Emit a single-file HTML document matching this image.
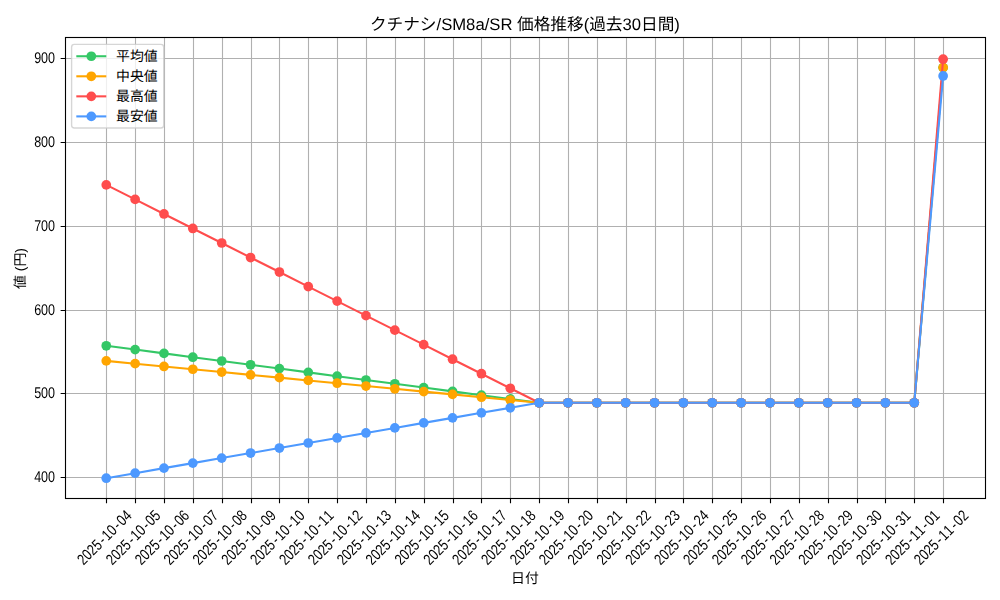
<!DOCTYPE html>
<html lang="ja">
<head>
<meta charset="utf-8">
<title>クチナシ/SM8a/SR 価格推移(過去30日間)</title>
<style>
html,body{margin:0;padding:0;background:#fff;}
body{width:1000px;height:600px;overflow:hidden;font-family:"Liberation Sans","Noto Sans CJK JP",sans-serif;}
svg{display:block;}
.t{fill:#000;opacity:0.999;}
.t text{font-family:"Liberation Sans","Noto Sans CJK JP",sans-serif;text-anchor:start;white-space:pre;text-rendering:geometricPrecision;fill:#000;}
.t text.m{text-anchor:middle;}
</style>
</head>
<body>
<svg width="1000" height="600" viewBox="0 0 1000 600" role="img" aria-label="クチナシ/SM8a/SR 価格推移(過去30日間)">
<defs><clipPath id="axclip"><rect x="65.5" y="37.5" width="920" height="461"/></clipPath></defs>
<rect width="1000" height="600" fill="#fff"/>
<path d="M106.5 37.5V498.5M135.5 37.5V498.5M164.5 37.5V498.5M193.5 37.5V498.5M222.5 37.5V498.5M251.5 37.5V498.5M279.5 37.5V498.5M308.5 37.5V498.5M337.5 37.5V498.5M366.5 37.5V498.5M395.5 37.5V498.5M424.5 37.5V498.5M453.5 37.5V498.5M481.5 37.5V498.5M510.5 37.5V498.5M539.5 37.5V498.5M568.5 37.5V498.5M597.5 37.5V498.5M626.5 37.5V498.5M655.5 37.5V498.5M683.5 37.5V498.5M712.5 37.5V498.5M741.5 37.5V498.5M770.5 37.5V498.5M799.5 37.5V498.5M828.5 37.5V498.5M857.5 37.5V498.5M885.5 37.5V498.5M914.5 37.5V498.5M943.5 37.5V498.5M65.5 477.5H985.5M65.5 393.5H985.5M65.5 310.5H985.5M65.5 226.5H985.5M65.5 142.5H985.5M65.5 58.5H985.5" stroke="#b0b0b0" stroke-width="1.11" fill="none"/>
<g clip-path="url(#axclip)">
<g fill="#34C766" stroke="#34C766"><title>平均値</title><polyline points="106.27,345.8 135.13,349.59 163.98,353.39 192.84,357.19 221.7,360.99 250.56,364.79 279.41,368.59 308.27,372.39 337.13,376.19 365.98,379.99 394.84,383.79 423.7,387.58 452.55,391.38 481.41,395.18 510.27,398.98 539.12,402.78 567.98,402.78 596.84,402.78 625.7,402.78 654.55,402.78 683.41,402.78 712.27,402.78 741.12,402.78 769.98,402.78 798.84,402.78 827.69,402.78 856.55,402.78 885.41,402.78 914.27,402.78 943.12,67.58" fill="none" stroke-width="2.08" stroke-linejoin="round"/>
<circle cx="106.27" cy="345.8" r="4.86" stroke="none"/><circle cx="135.13" cy="349.59" r="4.86" stroke="none"/><circle cx="163.98" cy="353.39" r="4.86" stroke="none"/><circle cx="192.84" cy="357.19" r="4.86" stroke="none"/><circle cx="221.7" cy="360.99" r="4.86" stroke="none"/><circle cx="250.56" cy="364.79" r="4.86" stroke="none"/><circle cx="279.41" cy="368.59" r="4.86" stroke="none"/><circle cx="308.27" cy="372.39" r="4.86" stroke="none"/><circle cx="337.13" cy="376.19" r="4.86" stroke="none"/><circle cx="365.98" cy="379.99" r="4.86" stroke="none"/><circle cx="394.84" cy="383.79" r="4.86" stroke="none"/><circle cx="423.7" cy="387.58" r="4.86" stroke="none"/><circle cx="452.55" cy="391.38" r="4.86" stroke="none"/><circle cx="481.41" cy="395.18" r="4.86" stroke="none"/><circle cx="510.27" cy="398.98" r="4.86" stroke="none"/><circle cx="539.12" cy="402.78" r="4.86" stroke="none"/><circle cx="567.98" cy="402.78" r="4.86" stroke="none"/><circle cx="596.84" cy="402.78" r="4.86" stroke="none"/><circle cx="625.7" cy="402.78" r="4.86" stroke="none"/><circle cx="654.55" cy="402.78" r="4.86" stroke="none"/><circle cx="683.41" cy="402.78" r="4.86" stroke="none"/><circle cx="712.27" cy="402.78" r="4.86" stroke="none"/><circle cx="741.12" cy="402.78" r="4.86" stroke="none"/><circle cx="769.98" cy="402.78" r="4.86" stroke="none"/><circle cx="798.84" cy="402.78" r="4.86" stroke="none"/><circle cx="827.69" cy="402.78" r="4.86" stroke="none"/><circle cx="856.55" cy="402.78" r="4.86" stroke="none"/><circle cx="885.41" cy="402.78" r="4.86" stroke="none"/><circle cx="914.27" cy="402.78" r="4.86" stroke="none"/><circle cx="943.12" cy="67.58" r="4.86" stroke="none"/></g>
<g fill="#FFA500" stroke="#FFA500"><title>中央値</title><polyline points="106.27,360.88 135.13,363.67 163.98,366.47 192.84,369.26 221.7,372.05 250.56,374.85 279.41,377.64 308.27,380.43 337.13,383.23 365.98,386.02 394.84,388.81 423.7,391.61 452.55,394.4 481.41,397.19 510.27,399.99 539.12,402.78 567.98,402.78 596.84,402.78 625.7,402.78 654.55,402.78 683.41,402.78 712.27,402.78 741.12,402.78 769.98,402.78 798.84,402.78 827.69,402.78 856.55,402.78 885.41,402.78 914.27,402.78 943.12,67.58" fill="none" stroke-width="2.08" stroke-linejoin="round"/>
<circle cx="106.27" cy="360.88" r="4.86" stroke="none"/><circle cx="135.13" cy="363.67" r="4.86" stroke="none"/><circle cx="163.98" cy="366.47" r="4.86" stroke="none"/><circle cx="192.84" cy="369.26" r="4.86" stroke="none"/><circle cx="221.7" cy="372.05" r="4.86" stroke="none"/><circle cx="250.56" cy="374.85" r="4.86" stroke="none"/><circle cx="279.41" cy="377.64" r="4.86" stroke="none"/><circle cx="308.27" cy="380.43" r="4.86" stroke="none"/><circle cx="337.13" cy="383.23" r="4.86" stroke="none"/><circle cx="365.98" cy="386.02" r="4.86" stroke="none"/><circle cx="394.84" cy="388.81" r="4.86" stroke="none"/><circle cx="423.7" cy="391.61" r="4.86" stroke="none"/><circle cx="452.55" cy="394.4" r="4.86" stroke="none"/><circle cx="481.41" cy="397.19" r="4.86" stroke="none"/><circle cx="510.27" cy="399.99" r="4.86" stroke="none"/><circle cx="539.12" cy="402.78" r="4.86" stroke="none"/><circle cx="567.98" cy="402.78" r="4.86" stroke="none"/><circle cx="596.84" cy="402.78" r="4.86" stroke="none"/><circle cx="625.7" cy="402.78" r="4.86" stroke="none"/><circle cx="654.55" cy="402.78" r="4.86" stroke="none"/><circle cx="683.41" cy="402.78" r="4.86" stroke="none"/><circle cx="712.27" cy="402.78" r="4.86" stroke="none"/><circle cx="741.12" cy="402.78" r="4.86" stroke="none"/><circle cx="769.98" cy="402.78" r="4.86" stroke="none"/><circle cx="798.84" cy="402.78" r="4.86" stroke="none"/><circle cx="827.69" cy="402.78" r="4.86" stroke="none"/><circle cx="856.55" cy="402.78" r="4.86" stroke="none"/><circle cx="885.41" cy="402.78" r="4.86" stroke="none"/><circle cx="914.27" cy="402.78" r="4.86" stroke="none"/><circle cx="943.12" cy="67.58" r="4.86" stroke="none"/></g>
<g fill="#FF4D4D" stroke="#FF4D4D"><title>最高値</title><polyline points="106.27,184.9 135.13,199.43 163.98,213.95 192.84,228.48 221.7,243 250.56,257.53 279.41,272.05 308.27,286.58 337.13,301.1 365.98,315.63 394.84,330.15 423.7,344.68 452.55,359.2 481.41,373.73 510.27,388.25 539.12,402.78 567.98,402.78 596.84,402.78 625.7,402.78 654.55,402.78 683.41,402.78 712.27,402.78 741.12,402.78 769.98,402.78 798.84,402.78 827.69,402.78 856.55,402.78 885.41,402.78 914.27,402.78 943.12,59.2" fill="none" stroke-width="2.08" stroke-linejoin="round"/>
<circle cx="106.27" cy="184.9" r="4.86" stroke="none"/><circle cx="135.13" cy="199.43" r="4.86" stroke="none"/><circle cx="163.98" cy="213.95" r="4.86" stroke="none"/><circle cx="192.84" cy="228.48" r="4.86" stroke="none"/><circle cx="221.7" cy="243" r="4.86" stroke="none"/><circle cx="250.56" cy="257.53" r="4.86" stroke="none"/><circle cx="279.41" cy="272.05" r="4.86" stroke="none"/><circle cx="308.27" cy="286.58" r="4.86" stroke="none"/><circle cx="337.13" cy="301.1" r="4.86" stroke="none"/><circle cx="365.98" cy="315.63" r="4.86" stroke="none"/><circle cx="394.84" cy="330.15" r="4.86" stroke="none"/><circle cx="423.7" cy="344.68" r="4.86" stroke="none"/><circle cx="452.55" cy="359.2" r="4.86" stroke="none"/><circle cx="481.41" cy="373.73" r="4.86" stroke="none"/><circle cx="510.27" cy="388.25" r="4.86" stroke="none"/><circle cx="539.12" cy="402.78" r="4.86" stroke="none"/><circle cx="567.98" cy="402.78" r="4.86" stroke="none"/><circle cx="596.84" cy="402.78" r="4.86" stroke="none"/><circle cx="625.7" cy="402.78" r="4.86" stroke="none"/><circle cx="654.55" cy="402.78" r="4.86" stroke="none"/><circle cx="683.41" cy="402.78" r="4.86" stroke="none"/><circle cx="712.27" cy="402.78" r="4.86" stroke="none"/><circle cx="741.12" cy="402.78" r="4.86" stroke="none"/><circle cx="769.98" cy="402.78" r="4.86" stroke="none"/><circle cx="798.84" cy="402.78" r="4.86" stroke="none"/><circle cx="827.69" cy="402.78" r="4.86" stroke="none"/><circle cx="856.55" cy="402.78" r="4.86" stroke="none"/><circle cx="885.41" cy="402.78" r="4.86" stroke="none"/><circle cx="914.27" cy="402.78" r="4.86" stroke="none"/><circle cx="943.12" cy="59.2" r="4.86" stroke="none"/></g>
<g fill="#4D99FF" stroke="#4D99FF"><title>最安値</title><polyline points="106.27,478.2 135.13,473.17 163.98,468.14 192.84,463.12 221.7,458.09 250.56,453.06 279.41,448.03 308.27,443 337.13,437.98 365.98,432.95 394.84,427.92 423.7,422.89 452.55,417.86 481.41,412.84 510.27,407.81 539.12,402.78 567.98,402.78 596.84,402.78 625.7,402.78 654.55,402.78 683.41,402.78 712.27,402.78 741.12,402.78 769.98,402.78 798.84,402.78 827.69,402.78 856.55,402.78 885.41,402.78 914.27,402.78 943.12,75.96" fill="none" stroke-width="2.08" stroke-linejoin="round"/>
<circle cx="106.27" cy="478.2" r="4.86" stroke="none"/><circle cx="135.13" cy="473.17" r="4.86" stroke="none"/><circle cx="163.98" cy="468.14" r="4.86" stroke="none"/><circle cx="192.84" cy="463.12" r="4.86" stroke="none"/><circle cx="221.7" cy="458.09" r="4.86" stroke="none"/><circle cx="250.56" cy="453.06" r="4.86" stroke="none"/><circle cx="279.41" cy="448.03" r="4.86" stroke="none"/><circle cx="308.27" cy="443" r="4.86" stroke="none"/><circle cx="337.13" cy="437.98" r="4.86" stroke="none"/><circle cx="365.98" cy="432.95" r="4.86" stroke="none"/><circle cx="394.84" cy="427.92" r="4.86" stroke="none"/><circle cx="423.7" cy="422.89" r="4.86" stroke="none"/><circle cx="452.55" cy="417.86" r="4.86" stroke="none"/><circle cx="481.41" cy="412.84" r="4.86" stroke="none"/><circle cx="510.27" cy="407.81" r="4.86" stroke="none"/><circle cx="539.12" cy="402.78" r="4.86" stroke="none"/><circle cx="567.98" cy="402.78" r="4.86" stroke="none"/><circle cx="596.84" cy="402.78" r="4.86" stroke="none"/><circle cx="625.7" cy="402.78" r="4.86" stroke="none"/><circle cx="654.55" cy="402.78" r="4.86" stroke="none"/><circle cx="683.41" cy="402.78" r="4.86" stroke="none"/><circle cx="712.27" cy="402.78" r="4.86" stroke="none"/><circle cx="741.12" cy="402.78" r="4.86" stroke="none"/><circle cx="769.98" cy="402.78" r="4.86" stroke="none"/><circle cx="798.84" cy="402.78" r="4.86" stroke="none"/><circle cx="827.69" cy="402.78" r="4.86" stroke="none"/><circle cx="856.55" cy="402.78" r="4.86" stroke="none"/><circle cx="885.41" cy="402.78" r="4.86" stroke="none"/><circle cx="914.27" cy="402.78" r="4.86" stroke="none"/><circle cx="943.12" cy="75.96" r="4.86" stroke="none"/></g>
</g>
<path d="M106.5 498.5v4.86M135.5 498.5v4.86M164.5 498.5v4.86M193.5 498.5v4.86M222.5 498.5v4.86M251.5 498.5v4.86M279.5 498.5v4.86M308.5 498.5v4.86M337.5 498.5v4.86M366.5 498.5v4.86M395.5 498.5v4.86M424.5 498.5v4.86M453.5 498.5v4.86M481.5 498.5v4.86M510.5 498.5v4.86M539.5 498.5v4.86M568.5 498.5v4.86M597.5 498.5v4.86M626.5 498.5v4.86M655.5 498.5v4.86M683.5 498.5v4.86M712.5 498.5v4.86M741.5 498.5v4.86M770.5 498.5v4.86M799.5 498.5v4.86M828.5 498.5v4.86M857.5 498.5v4.86M885.5 498.5v4.86M914.5 498.5v4.86M943.5 498.5v4.86M65.5 477.5h-4.86M65.5 393.5h-4.86M65.5 310.5h-4.86M65.5 226.5h-4.86M65.5 142.5h-4.86M65.5 58.5h-4.86" stroke="#000" stroke-width="1.11" fill="none"/>
<rect x="65.5" y="37.5" width="920" height="461" fill="none" stroke="#000" stroke-width="1.11"/>
<g class="t">
<text class="m" x="524.9" y="30.2" font-size="16.67">クチナシ/SM8a/SR 価格推移(過去30日間)</text>
<text class="m" x="524.9" y="583.4" font-size="13.89">日付</text>
<text class="m" transform="translate(25.1 268.5) rotate(-90)" x="0" y="0" font-size="13.89">値 (円)</text>
<g transform="translate(55 482.4) translate(-20.84 0)"><text font-size="15.56" transform="scale(0.807 1)" x="-0.02 8.58 17.19">400</text></g>
<g transform="translate(55 398.4) translate(-20.84 0)"><text font-size="15.56" transform="scale(0.807 1)" x="-0.02 8.58 17.19">500</text></g>
<g transform="translate(55 315.4) translate(-20.84 0)"><text font-size="15.56" transform="scale(0.807 1)" x="-0.02 8.58 17.19">600</text></g>
<g transform="translate(55 231.4) translate(-20.84 0)"><text font-size="15.56" transform="scale(0.807 1)" x="-0.02 8.58 17.19">700</text></g>
<g transform="translate(55 147.4) translate(-20.84 0)"><text font-size="15.56" transform="scale(0.807 1)" x="-0.02 8.58 17.19">800</text></g>
<g transform="translate(55 63.4) translate(-20.84 0)"><text font-size="15.56" transform="scale(0.807 1)" x="-0.02 8.58 17.19">900</text></g>
<g transform="translate(132.57 516.6) rotate(-45) translate(-69.45 0)"><text font-size="15.56" transform="scale(0.807 1)" x="-0.02 8.58 17.19 25.8 36.14 43.01 51.62 61.96 68.83 77.44">2025-10-04</text></g>
<g transform="translate(161.43 516.6) rotate(-45) translate(-69.45 0)"><text font-size="15.56" transform="scale(0.807 1)" x="-0.02 8.58 17.19 25.8 36.14 43.01 51.62 61.96 68.83 77.44">2025-10-05</text></g>
<g transform="translate(190.28 516.6) rotate(-45) translate(-69.45 0)"><text font-size="15.56" transform="scale(0.807 1)" x="-0.02 8.58 17.19 25.8 36.14 43.01 51.62 61.96 68.83 77.44">2025-10-06</text></g>
<g transform="translate(219.14 516.6) rotate(-45) translate(-69.45 0)"><text font-size="15.56" transform="scale(0.807 1)" x="-0.02 8.58 17.19 25.8 36.14 43.01 51.62 61.96 68.83 77.44">2025-10-07</text></g>
<g transform="translate(248 516.6) rotate(-45) translate(-69.45 0)"><text font-size="15.56" transform="scale(0.807 1)" x="-0.02 8.58 17.19 25.8 36.14 43.01 51.62 61.96 68.83 77.44">2025-10-08</text></g>
<g transform="translate(276.86 516.6) rotate(-45) translate(-69.45 0)"><text font-size="15.56" transform="scale(0.807 1)" x="-0.02 8.58 17.19 25.8 36.14 43.01 51.62 61.96 68.83 77.44">2025-10-09</text></g>
<g transform="translate(305.71 516.6) rotate(-45) translate(-69.45 0)"><text font-size="15.56" transform="scale(0.807 1)" x="-0.02 8.58 17.19 25.8 36.14 43.01 51.62 61.96 68.83 77.44">2025-10-10</text></g>
<g transform="translate(334.57 516.6) rotate(-45) translate(-69.45 0)"><text font-size="15.56" transform="scale(0.807 1)" x="-0.02 8.58 17.19 25.8 36.14 43.01 51.62 61.96 68.83 77.44">2025-10-11</text></g>
<g transform="translate(363.43 516.6) rotate(-45) translate(-69.45 0)"><text font-size="15.56" transform="scale(0.807 1)" x="-0.02 8.58 17.19 25.8 36.14 43.01 51.62 61.96 68.83 77.44">2025-10-12</text></g>
<g transform="translate(392.28 516.6) rotate(-45) translate(-69.45 0)"><text font-size="15.56" transform="scale(0.807 1)" x="-0.02 8.58 17.19 25.8 36.14 43.01 51.62 61.96 68.83 77.44">2025-10-13</text></g>
<g transform="translate(421.14 516.6) rotate(-45) translate(-69.45 0)"><text font-size="15.56" transform="scale(0.807 1)" x="-0.02 8.58 17.19 25.8 36.14 43.01 51.62 61.96 68.83 77.44">2025-10-14</text></g>
<g transform="translate(450 516.6) rotate(-45) translate(-69.45 0)"><text font-size="15.56" transform="scale(0.807 1)" x="-0.02 8.58 17.19 25.8 36.14 43.01 51.62 61.96 68.83 77.44">2025-10-15</text></g>
<g transform="translate(478.85 516.6) rotate(-45) translate(-69.45 0)"><text font-size="15.56" transform="scale(0.807 1)" x="-0.02 8.58 17.19 25.8 36.14 43.01 51.62 61.96 68.83 77.44">2025-10-16</text></g>
<g transform="translate(507.71 516.6) rotate(-45) translate(-69.45 0)"><text font-size="15.56" transform="scale(0.807 1)" x="-0.02 8.58 17.19 25.8 36.14 43.01 51.62 61.96 68.83 77.44">2025-10-17</text></g>
<g transform="translate(536.57 516.6) rotate(-45) translate(-69.45 0)"><text font-size="15.56" transform="scale(0.807 1)" x="-0.02 8.58 17.19 25.8 36.14 43.01 51.62 61.96 68.83 77.44">2025-10-18</text></g>
<g transform="translate(565.42 516.6) rotate(-45) translate(-69.45 0)"><text font-size="15.56" transform="scale(0.807 1)" x="-0.02 8.58 17.19 25.8 36.14 43.01 51.62 61.96 68.83 77.44">2025-10-19</text></g>
<g transform="translate(594.28 516.6) rotate(-45) translate(-69.45 0)"><text font-size="15.56" transform="scale(0.807 1)" x="-0.02 8.58 17.19 25.8 36.14 43.01 51.62 61.96 68.83 77.44">2025-10-20</text></g>
<g transform="translate(623.14 516.6) rotate(-45) translate(-69.45 0)"><text font-size="15.56" transform="scale(0.807 1)" x="-0.02 8.58 17.19 25.8 36.14 43.01 51.62 61.96 68.83 77.44">2025-10-21</text></g>
<g transform="translate(652 516.6) rotate(-45) translate(-69.45 0)"><text font-size="15.56" transform="scale(0.807 1)" x="-0.02 8.58 17.19 25.8 36.14 43.01 51.62 61.96 68.83 77.44">2025-10-22</text></g>
<g transform="translate(680.85 516.6) rotate(-45) translate(-69.45 0)"><text font-size="15.56" transform="scale(0.807 1)" x="-0.02 8.58 17.19 25.8 36.14 43.01 51.62 61.96 68.83 77.44">2025-10-23</text></g>
<g transform="translate(709.71 516.6) rotate(-45) translate(-69.45 0)"><text font-size="15.56" transform="scale(0.807 1)" x="-0.02 8.58 17.19 25.8 36.14 43.01 51.62 61.96 68.83 77.44">2025-10-24</text></g>
<g transform="translate(738.57 516.6) rotate(-45) translate(-69.45 0)"><text font-size="15.56" transform="scale(0.807 1)" x="-0.02 8.58 17.19 25.8 36.14 43.01 51.62 61.96 68.83 77.44">2025-10-25</text></g>
<g transform="translate(767.42 516.6) rotate(-45) translate(-69.45 0)"><text font-size="15.56" transform="scale(0.807 1)" x="-0.02 8.58 17.19 25.8 36.14 43.01 51.62 61.96 68.83 77.44">2025-10-26</text></g>
<g transform="translate(796.28 516.6) rotate(-45) translate(-69.45 0)"><text font-size="15.56" transform="scale(0.807 1)" x="-0.02 8.58 17.19 25.8 36.14 43.01 51.62 61.96 68.83 77.44">2025-10-27</text></g>
<g transform="translate(825.14 516.6) rotate(-45) translate(-69.45 0)"><text font-size="15.56" transform="scale(0.807 1)" x="-0.02 8.58 17.19 25.8 36.14 43.01 51.62 61.96 68.83 77.44">2025-10-28</text></g>
<g transform="translate(853.99 516.6) rotate(-45) translate(-69.45 0)"><text font-size="15.56" transform="scale(0.807 1)" x="-0.02 8.58 17.19 25.8 36.14 43.01 51.62 61.96 68.83 77.44">2025-10-29</text></g>
<g transform="translate(882.85 516.6) rotate(-45) translate(-69.45 0)"><text font-size="15.56" transform="scale(0.807 1)" x="-0.02 8.58 17.19 25.8 36.14 43.01 51.62 61.96 68.83 77.44">2025-10-30</text></g>
<g transform="translate(911.71 516.6) rotate(-45) translate(-69.45 0)"><text font-size="15.56" transform="scale(0.807 1)" x="-0.02 8.58 17.19 25.8 36.14 43.01 51.62 61.96 68.83 77.44">2025-10-31</text></g>
<g transform="translate(940.57 516.6) rotate(-45) translate(-69.45 0)"><text font-size="15.56" transform="scale(0.807 1)" x="-0.02 8.58 17.19 25.8 36.14 43.01 51.62 61.96 68.83 77.44">2025-11-01</text></g>
<g transform="translate(969.42 516.6) rotate(-45) translate(-69.45 0)"><text font-size="15.56" transform="scale(0.807 1)" x="-0.02 8.58 17.19 25.8 36.14 43.01 51.62 61.96 68.83 77.44">2025-11-02</text></g>
</g>
<rect x="71.6" y="44.4" width="92.1" height="83.6" rx="2.8" fill="#fff" fill-opacity="0.8" stroke="#ccc" stroke-opacity="0.8" stroke-width="1.39"/>
<path d="M77.35 56.25h27.9" stroke="#34C766" stroke-width="2.08" stroke-linecap="square"/>
<circle cx="91.3" cy="56.25" r="4.86" fill="#34C766"/>
<g class="t"><text x="116" y="61.25" font-size="13.89">平均値</text></g>
<path d="M77.35 76.3h27.9" stroke="#FFA500" stroke-width="2.08" stroke-linecap="square"/>
<circle cx="91.3" cy="76.3" r="4.86" fill="#FFA500"/>
<g class="t"><text x="116" y="81.3" font-size="13.89">中央値</text></g>
<path d="M77.35 96.35h27.9" stroke="#FF4D4D" stroke-width="2.08" stroke-linecap="square"/>
<circle cx="91.3" cy="96.35" r="4.86" fill="#FF4D4D"/>
<g class="t"><text x="116" y="101.35" font-size="13.89">最高値</text></g>
<path d="M77.35 116.4h27.9" stroke="#4D99FF" stroke-width="2.08" stroke-linecap="square"/>
<circle cx="91.3" cy="116.4" r="4.86" fill="#4D99FF"/>
<g class="t"><text x="116" y="121.4" font-size="13.89">最安値</text></g>
</svg>
</body>
</html>
